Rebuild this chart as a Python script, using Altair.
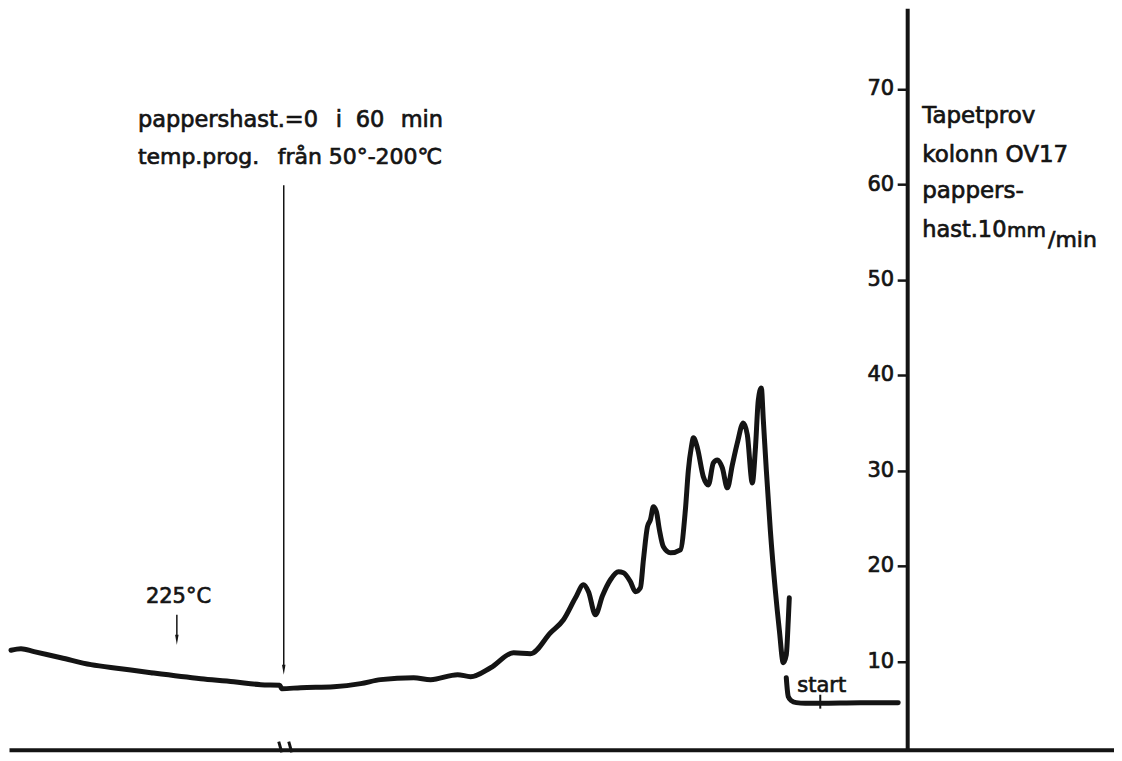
import altair as alt
import pandas as pd

INK = "#141414"
FONT = "DejaVu Sans"

# ---- data -------------------------------------------------------------
# recorder trace: paper position (arbitrary units) and recorder reading
trace_x = [10, 20, 33, 60, 90, 120, 150, 200, 233, 260, 279, 281, 300, 333,
           360, 380, 413, 430, 457, 470, 490, 513, 530, 550, 563, 575, 583,
           588, 595, 602, 610, 618, 623, 630, 635, 640, 643, 647, 650, 653,
           656, 659, 663, 670, 680, 685, 688, 691, 693, 697, 703, 708, 713,
           717, 722, 727, 732, 737, 743, 747, 752, 755, 758, 761, 763, 766,
           770, 775, 779, 783, 786, 788, 789]
trace_v = [11.2, 11.36, 11.05, 10.42, 9.69, 9.27, 8.85, 8.22, 7.91, 7.59,
           7.54, 7.17, 7.28, 7.38, 7.70, 8.12, 8.32, 8.12, 8.64, 8.43, 9.37,
           10.94, 10.84, 13.04, 14.40, 16.70, 18.06, 17.33, 14.92, 16.91,
           18.59, 19.42, 19.32, 18.38, 17.33, 17.75, 20.68, 24.14, 24.87,
           26.23, 25.71, 23.82, 22.04, 21.41, 21.73, 25.92, 30.10, 32.51,
           33.46, 32.41, 29.37, 28.53, 30.84, 31.15, 30.31, 28.22, 30.63,
           32.93, 35.03, 33.77, 28.74, 32.20, 37.43, 38.69, 35.34, 30.10,
           23.80, 17.50, 13.35, 9.90, 10.73, 14.40, 16.70]
# start segment
start_x = [786, 787, 788, 791, 796, 805, 820, 860, 898]
start_v = [8.32, 7.07, 6.34, 5.92, 5.71, 5.65, 5.65, 5.71, 5.71]

tick_values = [10, 20, 30, 40, 50, 60, 70]
tick_labels = ["10", "20", "30", "40", "50", "60", "70"]
tick_label_x = 894

# annotation texts
top_words = ["pappershast.=0", "i", "60", "min"]
top_x = [137, 335, 355, 400]
top_v = [66.02, 66.02, 66.02, 66.02]
top2_words = ["temp.prog.", "från", "50°-200℃"]
top2_x = [137, 277, 328]
top2_v = [62.15, 62.15, 62.15]

side_words = ["Tapetprov", "kolonn OV17", "pappers-"]
side_x = [922, 922, 922]
side_v = [66.44, 62.36, 58.59]

hast_words = ["hast.10"]
hast_x = [922]
hast_v = [54.5]
mm_words = ["mm"]
mm_x = [1007]
mm_v = [54.5]
min_words = ["/min"]
min_x = [1048]
min_v = [53.46]

temp_words = ["225°C"]
temp_x = [145]
temp_v = [16.18]

start_words = ["start"]
start_lx = [797]
start_lv = [6.86]

# arrows
arrow_x = [283, 176]
arrow_v1 = [59.95, 14.92]
arrow_v2 = [9.37, 12.51]
head_x = [283, 176]
head_v = [9.16, 12.3]

# paper break marks on baseline, start tick
brk_x = [278, 288]
brk_x2 = [281, 291]
brk_v = [1.63, 1.63]
brk_v2 = [0.5, 0.5]
stick_x = [820]
stick_v = [6.54]
stick_v2 = [5.08]

# ---- chart ------------------------------------------------------------
W, H = 1106, 742
xs = alt.Scale(domain=[8, 1114], nice=False, zero=False)
ys = alt.Scale(domain=[0.78, 78.48], nice=False, zero=False)

xaxis = alt.Axis(title=None, domain=True, domainColor=INK, domainWidth=4,
                 ticks=False, labels=False, grid=False)
yaxis = alt.Axis(title=None, orient="left", offset=-899, values=tick_values,
                 domainColor=INK, domainWidth=4, tickColor=INK, tickWidth=2.5,
                 tickSize=10, labels=False, grid=False)


def X(f="x"):
    return alt.X(f"{f}:Q", scale=xs, axis=xaxis)


def Y(f="v"):
    return alt.Y(f"{f}:Q", scale=ys, axis=yaxis)


trace_df = pd.DataFrame({"x": trace_x + start_x, "v": trace_v + start_v,
                         "seg": ["main"] * len(trace_x) + ["start"] * len(start_x)})

lines = alt.Chart(trace_df).mark_line(
    interpolate="monotone", strokeWidth=5, strokeCap="round",
    strokeJoin="round", color=INK
).encode(x=X(), y=Y(), detail="seg:N")


def text_layer(words, xv, vv, size, align="left", baseline="alphabetic"):
    df = pd.DataFrame({"x": xv, "v": vv, "t": words})
    return alt.Chart(df).mark_text(
        align=align, baseline=baseline, font=FONT, fontSize=size,
        color=INK, stroke=INK, strokeWidth=0.7
    ).encode(x=X(), y=Y(), text="t:N")


texts = [
    text_layer(tick_labels, [tick_label_x] * len(tick_values), tick_values, 21,
               align="right", baseline="middle"),
    text_layer(top_words, top_x, top_v, 22.5),
    text_layer(top2_words, top2_x, top2_v, 22),
    text_layer(side_words, side_x, side_v, 23),
    text_layer(hast_words, hast_x, hast_v, 22.5),
    text_layer(mm_words, mm_x, mm_v, 20),
    text_layer(min_words, min_x, min_v, 22),
    text_layer(temp_words, temp_x, temp_v, 21),
    text_layer(start_words, start_lx, start_lv, 21),
]

arrows = alt.Chart(pd.DataFrame({"x": arrow_x, "v": arrow_v1, "v2": arrow_v2})).mark_rule(
    color=INK, strokeWidth=1.5
).encode(x=X(), y=Y(), y2="v2:Q")

heads = alt.Chart(pd.DataFrame({"x": head_x, "v": head_v})).mark_point(
    shape="M-0.35,-1L0.35,-1L0,1Z", size=100, filled=True, color=INK,
    opacity=1, strokeWidth=0
).encode(x=X(), y=Y())

breaks = alt.Chart(pd.DataFrame({"x": brk_x, "x2": brk_x2, "v": brk_v, "v2": brk_v2})).mark_rule(
    color=INK, strokeWidth=3
).encode(x=X(), x2="x2:Q", y=Y(), y2="v2:Q")

stick = alt.Chart(pd.DataFrame({"x": stick_x, "v": stick_v, "v2": stick_v2})).mark_rule(
    color=INK, strokeWidth=2
).encode(x=X(), y=Y(), y2="v2:Q")

chart = alt.layer(lines, arrows, heads, breaks, stick, *texts).properties(
    width=W, height=H, padding=0, background="white"
).configure_view(stroke=None)

chart.save("out.html", embed_options={"renderer": "svg", "actions": False})
